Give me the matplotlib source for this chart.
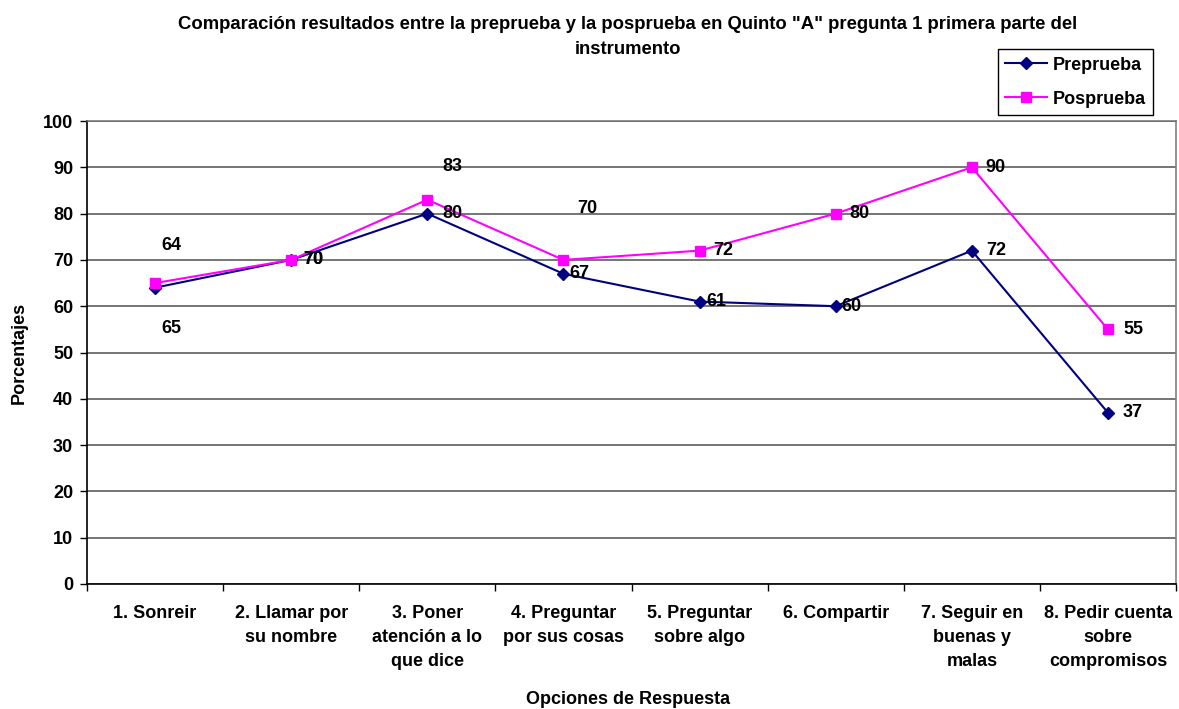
import matplotlib
matplotlib.use("Agg")
import matplotlib.pyplot as plt
import numpy as np

categories = ["1. Sonreir", "2. Llamar por\nsu nombre", "3. Poner\natención a lo\nque dice",
              "4. Preguntar\npor sus cosas", "5. Preguntar\nsobre algo", "6. Compartir",
              "7. Seguir en\nbuenas y\nmalas", "8. Pedir cuenta\nsobre\ncompromisos"]
preprueba = [64, 70, 80, 67, 61, 60, 72, 37]
posprueba = [65, 70, 83, 70, 72, 80, 90, 55]
yticks = list(range(0, 101, 10))

# label offsets in pixels (dx, dy up)
pre_off = [(16, 42), (22, 0), (25, 0), (16, 0), (17, 0), (16, 0), (24, 0), (25, 0)]
pos_off = [(16, -45), (22, 0), (25, 33), (24, 51), (24, 0), (24, 0), (24, 0), (25, 0)]

plt.rcParams['font.family'] = ['Liberation Sans', 'DejaVu Sans']
plt.rcParams['font.weight'] = 'bold'

FS = 13
fig = plt.figure(figsize=(11.79, 7.09), dpi=100)
ax = fig.add_axes([87/1179, 1-584/709, (1176-87)/1179, (584-121)/709])

x = np.arange(len(categories))
ax.plot(x, preprueba, color='#000080', marker='D', markersize=6.5, lw=1.5, label='Preprueba', zorder=3)
ax.plot(x, posprueba, color='#FF00FF', marker='s', markersize=7, lw=1.5, label='Posprueba', zorder=3)

for xi, v, off in zip(x, preprueba, pre_off):
    ax.annotate(str(v), (xi, v), xytext=off, textcoords='offset pixels', ha='center', va='center',
                fontsize=FS, fontweight='bold', zorder=4)
for xi, v, off in zip(x, posprueba, pos_off):
    ax.annotate(str(v), (xi, v), xytext=off, textcoords='offset pixels', ha='center', va='center',
                fontsize=FS, fontweight='bold', zorder=4)

ax.set_xlim(-0.5, len(categories) - 0.5)
ax.set_ylim(0, 100)
ax.set_yticks(yticks)
ax.set_yticklabels([str(t) for t in yticks], fontsize=13, fontweight='bold')
ax.yaxis.grid(True, color='#505050', lw=1.1)
ax.set_axisbelow(True)

ax.set_xticks(np.arange(len(categories) + 1) - 0.5)
ax.set_xticklabels([])
ax.set_xticks(x, minor=True)
ax.set_xticklabels(categories, minor=True, fontsize=FS, fontweight='bold', linespacing=1.53, va='top')
ax.tick_params(axis='x', which='minor', length=0, pad=15)
ax.tick_params(axis='x', which='major', length=5, direction='out', width=1)
ax.tick_params(axis='y', length=5, direction='out', width=1, pad=5)

for s in ['left', 'bottom']:
    ax.spines[s].set_color('black')
    ax.spines[s].set_linewidth(1.2)
ax.spines['top'].set_color('#707070')
ax.spines['top'].set_linewidth(1.1)
ax.spines['right'].set_color('#808080')
ax.spines['right'].set_linewidth(1.2)

ax.set_ylabel('Porcentajes', fontsize=FS, fontweight='bold', labelpad=11)
fig.text(628/1179, 1-699/709, 'Opciones de Respuesta', ha='center', va='center', fontsize=FS, fontweight='bold')
fig.text(628/1179, 1-37/709, 'Comparación resultados entre la preprueba y la posprueba en Quinto "A" pregunta 1 primera parte del\ninstrumento',
         ha='center', va='center', fontsize=13.3, fontweight='bold', linespacing=1.68)

leg = ax.legend(loc='upper right', bbox_to_anchor=(1153/1179, 1-49/709), bbox_transform=fig.transFigure,
                fancybox=False, edgecolor='black', framealpha=1, prop={'weight': 'bold', 'size': FS},
                handlelength=2.3, borderpad=0.42, labelspacing=0.95, handletextpad=0.3, borderaxespad=0)
leg.get_frame().set_linewidth(1)

fig.savefig('out.png', dpi=100)
